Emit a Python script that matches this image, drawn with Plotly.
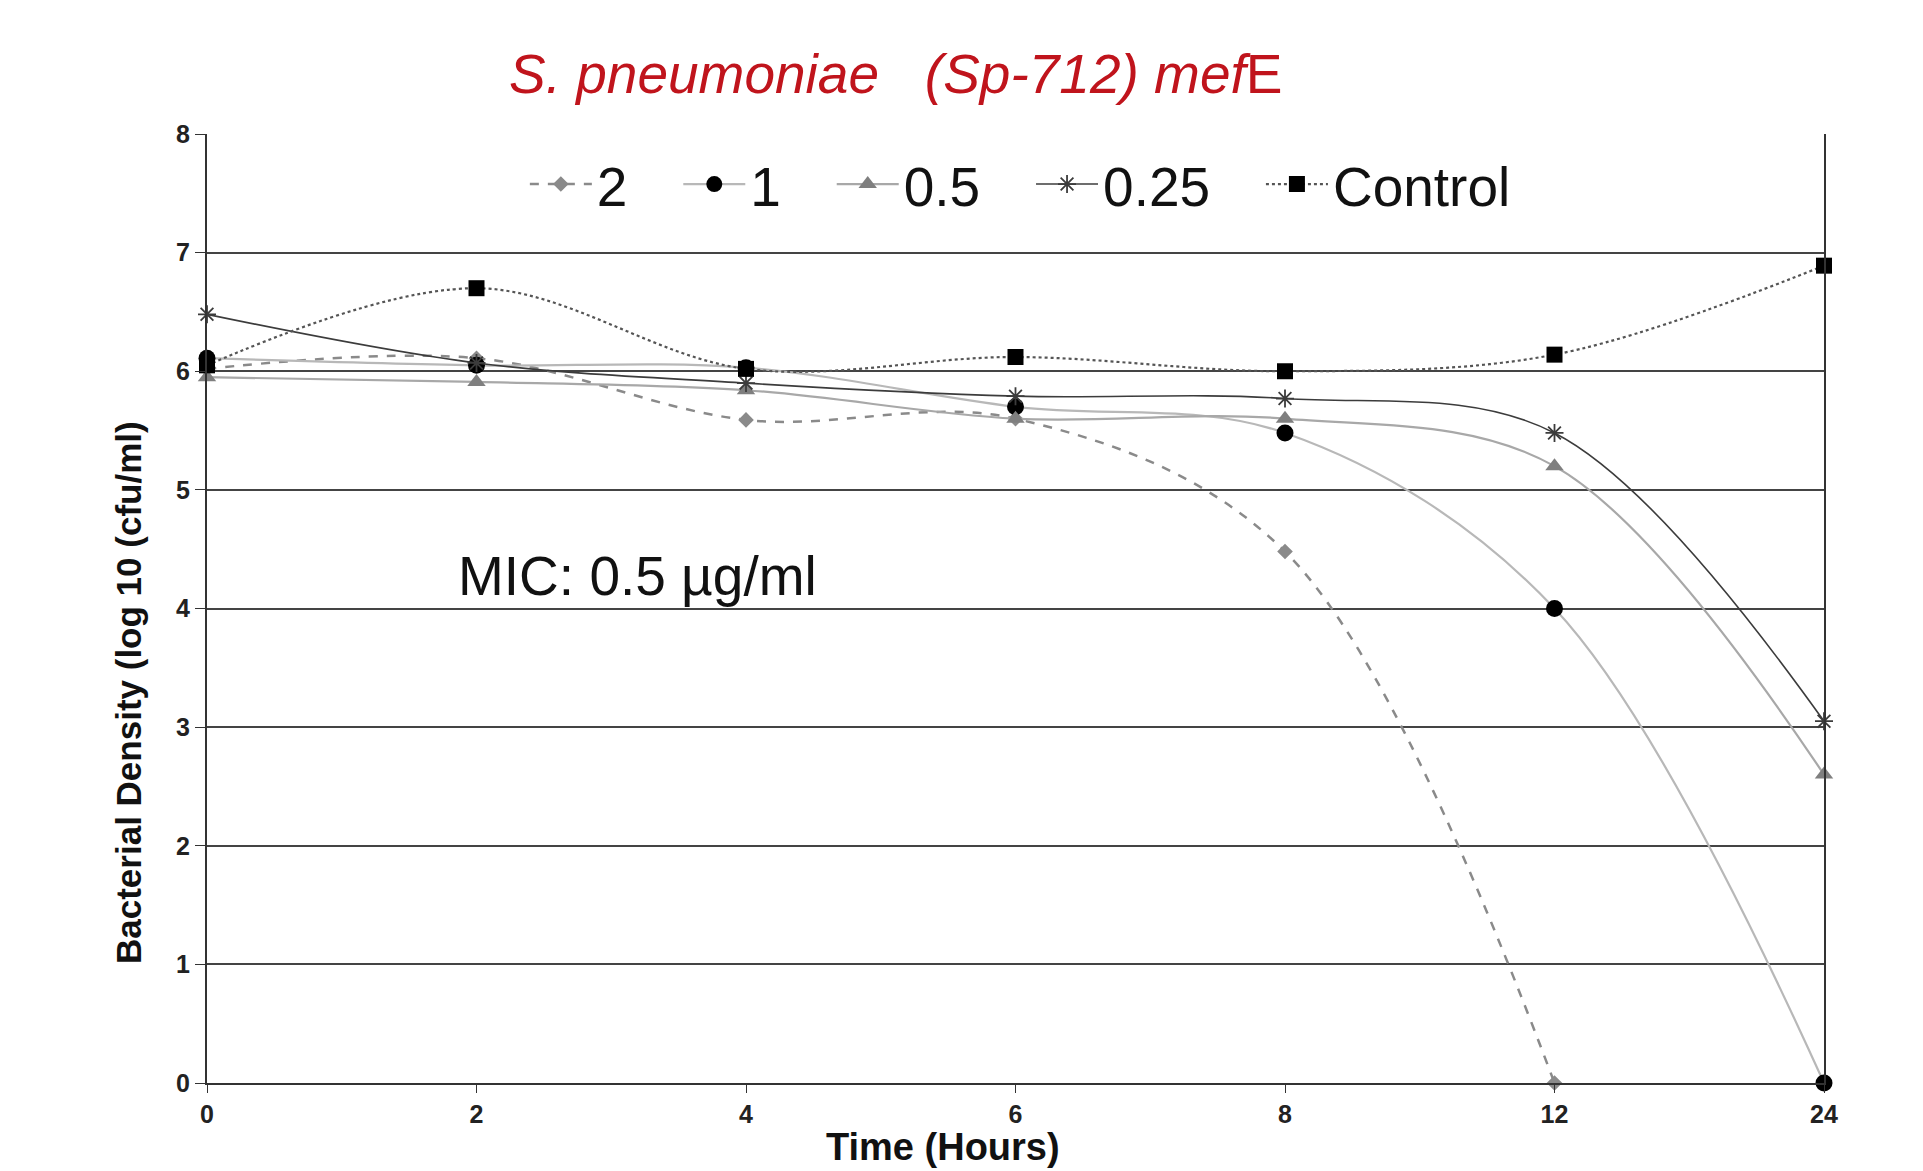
import plotly.graph_objects as go

times = ["0", "2", "4", "6", "8", "12", "24"]
s2 = [6.02, 6.11, 5.59, 5.6, 4.48, 0.0, None]
s1 = [6.11, 6.05, 6.03, 5.7, 5.48, 4.0, 0.0]
s05 = [5.95, 5.91, 5.84, 5.6, 5.6, 5.2, 2.6]
s025 = [6.48, 6.07, 5.9, 5.79, 5.77, 5.48, 3.05]
control = [6.05, 6.7, 6.02, 6.12, 6.0, 6.14, 6.89]
y_ticks = [0, 1, 2, 3, 4, 5, 6, 7, 8]

GAP = "\u00a0\u00a0\u00a0"

fig = go.Figure()

def add(name, ys, lcolor, lwidth, dash, symbol, msize, mcolor, mline=None):
    marker = dict(symbol=symbol, size=msize, color=mcolor)
    if mline:
        marker["line"] = dict(color=mline, width=1.8)
    fig.add_trace(go.Scatter(
        x=times, y=ys, name=name, mode="lines+markers",
        line=dict(color=lcolor, width=lwidth, dash=dash, shape="spline", smoothing=1.0),
        marker=marker, connectgaps=False, cliponaxis=False,
    ))

add("2" + GAP, s2, "#8a8a8a", 2.5, "dash", "diamond", 12, "#8a8a8a")
add("1" + GAP, s1, "#b8b8b8", 2.2, "solid", "circle", 17, "#000000")
add("0.5" + GAP, s05, "#a8a8a8", 2.2, "solid", "triangle-up", 16, "#7f7f7f")
add("0.25" + GAP, s025, "#3c3c3c", 1.6, "solid", "asterisk-open", 15, "#3c3c3c", "#3c3c3c")
add("Control", control, "#555555", 2.2, "dot", "square", 16, "#000000")

tickfont = dict(size=25, family="Liberation Sans, Arial, sans-serif", weight="bold", color="#222222")

fig.update_layout(
    width=1923, height=1171,
    margin=dict(l=207, r=99, t=134, b=88),
    plot_bgcolor="white", paper_bgcolor="white",
    font=dict(family="Liberation Sans, Arial, sans-serif", color="#000000"),
    showlegend=True,
    legend=dict(orientation="h", x=0.503, y=0.947, xanchor="center", yanchor="middle",
                font=dict(size=55, color="#111111"), bgcolor="rgba(255,255,255,0)",
                itemwidth=62, tracegroupgap=0),
    xaxis=dict(type="category", categoryorder="array", categoryarray=times,
               range=[0, 6], showgrid=False, showline=True, linecolor="#333333", linewidth=2,
               ticks="outside", ticklen=8, tickcolor="#333333", tickfont=tickfont,
               zeroline=False),
    yaxis=dict(range=[0, 8], tickvals=y_ticks, showgrid=True, gridcolor="#444444", gridwidth=2,
               showline=True, linecolor="#333333", linewidth=2, mirror=True,
               ticks="outside", ticklen=10, tickcolor="#333333", tickfont=tickfont,
               zeroline=False),
)

fig.add_annotation(
    text="<i>S. pneumoniae   (Sp-712) mef</i>E",
    xref="paper", yref="paper", x=(895 - 207) / 1617, y=1 + (134 - 74) / 949,
    xanchor="center", yanchor="middle", showarrow=False,
    font=dict(size=55, color="#c0141c", family="Liberation Sans, Arial, sans-serif"),
)
fig.add_annotation(
    text="MIC: 0.5 \u00b5g/ml",
    xref="paper", yref="paper", x=(456 - 207) / 1617, y=(1083 - 576) / 949,
    xanchor="left", yanchor="middle", showarrow=False,
    font=dict(size=55, color="#111111", family="Liberation Sans, Arial, sans-serif"),
)
fig.add_annotation(
    text="<b>Time (Hours)</b>",
    xref="paper", yref="paper", x=(943 - 207) / 1617, y=-(1147 - 1083) / 949,
    xanchor="center", yanchor="middle", showarrow=False,
    font=dict(size=38, color="#111111", family="Liberation Sans, Arial, sans-serif"),
)
fig.add_annotation(
    text="<b>Bacterial Density (log 10 (cfu/ml)</b>",
    xref="paper", yref="paper", x=-(207 - 128) / 1617, y=(1083 - 693) / 949,
    xanchor="center", yanchor="middle", showarrow=False, textangle=-90,
    font=dict(size=35, color="#111111", family="Liberation Sans, Arial, sans-serif"),
)

fig.write_html("out.html")
